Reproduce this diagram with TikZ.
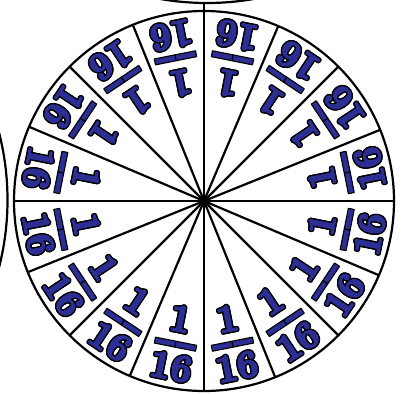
\documentclass[tikz,border=0pt]{standalone}
\usepackage{fontspec}
\usetikzlibrary{calc}
\definecolor{wblue}{RGB}{44,46,148}
\newfontfamily\digface{lmroman10-bold.otf}[FakeBold=4]
\newcommand{\outlined}[2]{%
  \foreach \a in {0,30,...,330}{\node[digit,text=black] at (\a:1.4) {#2};}%
  \node[digit,text=wblue] (#1) at (0,0) {#2};}
\begin{document}
\begin{tikzpicture}[x=1pt,y=1pt, line join=round,
  digit/.style={inner sep=0pt, xscale=0.94, font=\fontsize{39}{39}\digface},
  rim/.style={line width=2.2pt, draw=black},
  spoke/.style={line width=2.2pt, draw=black},
  barpart/.style={fill=wblue, draw=black, line width=1.1pt}]
\useasboundingbox (0,0) rectangle (409,394);
% neighbouring wheels, cut by the frame
\begin{scope}
  \clip (0,0) rectangle (409,394);
  \draw[rim] (207,661) circle (270);
  \draw[rim] (-262.5,194) circle (270);
\end{scope}
% main wheel
\node[draw, circle, minimum size=380pt, inner sep=0pt, outer sep=0pt, line width=2.2pt] (W) at (204,193) {};
\foreach \k in {0,...,15}{
  \draw[spoke] (W.center) -- (W.{22.5*\k});
}
\coordinate (T) at (204,391);
\draw[spoke] (W.north) -- (T);
% labels
\foreach \k in {0,...,15}{
  \pgfmathsetmacro\th{11.25+22.5*\k}
  \begin{scope}[shift={(W.center)}, rotate=\th+90, transform shape]
    \begin{scope}[shift={(0,-120)}]\outlined{n\k}{1}\end{scope}
    \draw[barpart] (-21,-149) rectangle (0,-143);
    \draw[barpart] (0,-149) rectangle (21,-143);
    \begin{scope}[shift={(0,-169)}]\outlined{d\k}{16}\end{scope}
  \end{scope}
}
\end{tikzpicture}
\end{document}
